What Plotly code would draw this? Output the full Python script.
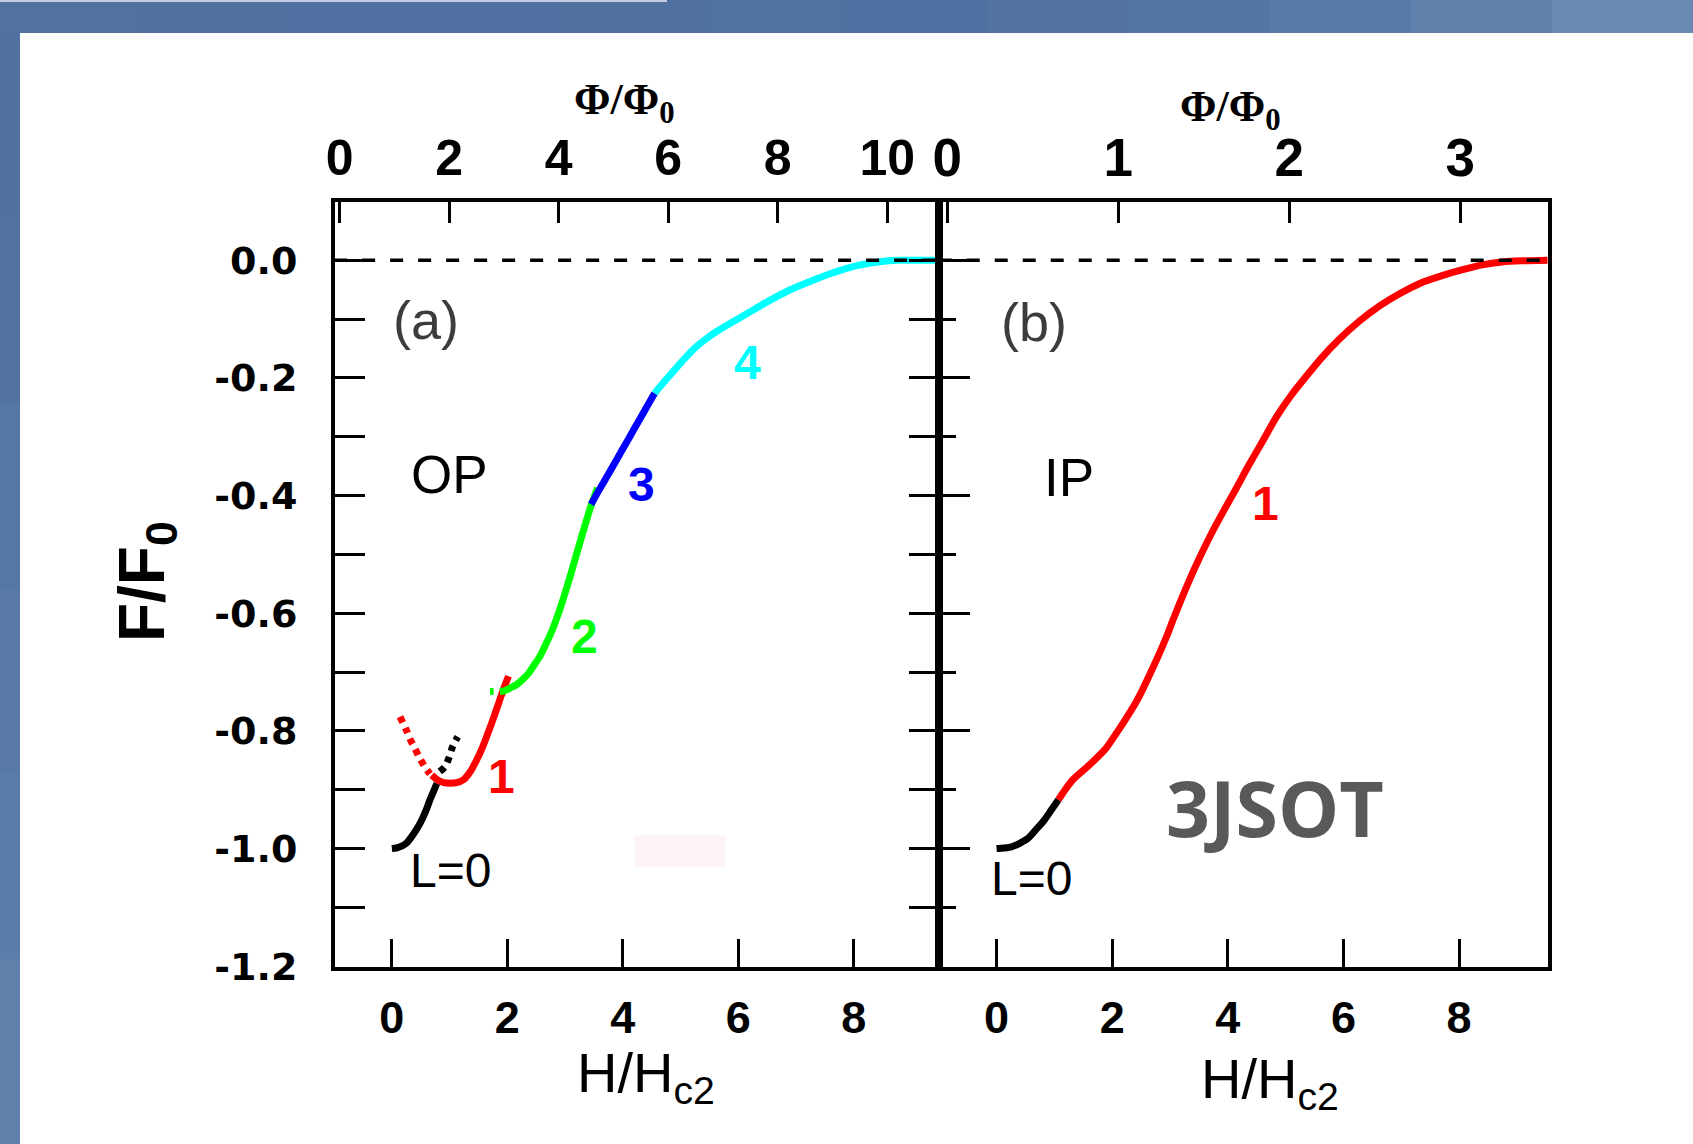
import plotly.graph_objects as go

# ---------------- data ----------------
# Panel (a) : OP
a_L0_H = [0.0, 0.08, 0.17, 0.26, 0.34, 0.43, 0.52, 0.60, 0.66, 0.72, 0.78]
a_L0_F = [-1.0, -0.999, -0.996, -0.990, -0.980, -0.967, -0.951, -0.933, -0.917, -0.903, -0.889]
a_L0dot_H = [0.83, 0.92, 0.99, 1.05, 1.14]
a_L0dot_F = [-0.869, -0.861, -0.845, -0.827, -0.810]
a_L1dot_H = [0.14, 0.24, 0.31, 0.40, 0.47, 0.57, 0.66]
a_L1dot_F = [-0.776, -0.796, -0.813, -0.830, -0.844, -0.861, -0.873]
a_L1_H = [0.69, 0.80, 0.90, 1.00, 1.12, 1.24, 1.36, 1.47, 1.56, 1.64, 1.72, 1.81, 1.88, 1.93, 1.98, 2.02]
a_L1_F = [-0.875, -0.884, -0.888, -0.889, -0.888, -0.883, -0.869, -0.849, -0.830, -0.810, -0.789,
          -0.764, -0.744, -0.730, -0.717, -0.707]
a_L2_H = [1.70, 1.76, None, 1.87, 1.94, 2.07, 2.15, 2.27, 2.36, 2.45, 2.57, 2.67, 2.78, 2.92, 3.07,
          3.17, 3.28, 3.37, 3.45, 3.56]
a_L2_F = [-0.733, -0.733, None, -0.733, -0.732, -0.726, -0.722, -0.712, -0.703, -0.690, -0.672, -0.652,
          -0.628, -0.590, -0.543, -0.509, -0.472, -0.442, -0.417, -0.387]
a_L3_H = [3.45, 3.58, 3.70, 3.84, 3.98, 4.12, 4.27, 4.41, 4.55]
a_L3_F = [-0.415, -0.392, -0.372, -0.348, -0.324, -0.300, -0.274, -0.250, -0.226]
a_L4_H = [4.55, 4.72, 4.90, 5.08, 5.26, 5.45, 5.61, 5.90, 6.18, 6.53, 6.88, 7.24, 7.59, 7.94, 8.29,
          8.60, 8.79, 9.50]
a_L4_F = [-0.226, -0.206, -0.186, -0.166, -0.148, -0.133, -0.122, -0.105, -0.089, -0.069, -0.051,
          -0.036, -0.023, -0.012, -0.005, -0.001, 0.0, 0.0]

# Panel (b) : IP
b_L0_H = [0.0, 0.13, 0.26, 0.40, 0.54, 0.68, 0.83, 0.95, 1.07]
b_L0_F = [-1.0, -0.999, -0.997, -0.991, -0.983, -0.968, -0.951, -0.934, -0.917]
b_L1_H = [1.07, 1.20, 1.32, 1.50, 1.67, 1.89, 2.10, 2.24, 2.38, 2.52, 2.66, 2.80, 2.94, 3.05, 3.16,
          3.37, 3.51, 3.72, 3.94, 4.15, 4.36, 4.60, 4.85, 5.10, 5.35, 5.63, 5.91, 6.27, 6.62, 6.97,
          7.33, 7.68, 8.03, 8.40, 8.74, 9.10, 9.55]
b_L1_F = [-0.917, -0.898, -0.883, -0.867, -0.852, -0.830, -0.800, -0.779, -0.757, -0.731, -0.702,
          -0.672, -0.640, -0.612, -0.585, -0.536, -0.506, -0.464, -0.424, -0.387, -0.349, -0.308,
          -0.265, -0.229, -0.198, -0.165, -0.136, -0.104, -0.078, -0.057, -0.039, -0.027, -0.017,
          -0.008, -0.003, -0.001, 0.0]

zero_H = [-1.0, 9.6]
zero_F = [0.0, 0.0]

# ticks
H_ticks = [0, 2, 4, 6, 8]
F_ticks = [-1.2, -1.0, -0.8, -0.6, -0.4, -0.2, 0.0]
F_ticktext = ["-1.2", "-1.0", "-0.8", "-0.6", "-0.4", "-0.2", "0.0"]
F_minor = [-1.1, -0.9, -0.7, -0.5, -0.3, -0.1]
phiA_ticks = [0, 2, 4, 6, 8, 10]
phiB_ticks = [0, 1, 2, 3]

# ---------------- layout helpers ----------------
W, Hh = 1693, 1144
def px(x): return x / W
def py(y): return 1 - y / Hh

SANS = "Liberation Sans, Arial, sans-serif"
SERIF = "Liberation Serif, Times New Roman, serif"
WIDE = "DejaVu Sans, Verdana, sans-serif"

xa_dom = [px(334.7), px(939.3)]
xb_dom = [px(939.3), px(1547.5)]
y_dom = [py(966.8), py(201.8)]
H_range_a = [-0.99, 9.48]
H_range_b = [-0.99, 9.53]
F_range = [-1.2009, 0.0993]

fig = go.Figure()

def line(xs, ys, color, ax, dash=None, width=7, spline=True):
    fig.add_trace(go.Scatter(x=xs, y=ys, mode="lines", xaxis=ax[0], yaxis=ax[1],
                             line=dict(color=color, width=width, dash=dash,
                                       shape="spline" if spline else "linear", smoothing=0.7),
                             connectgaps=False, showlegend=False, hoverinfo="skip"))

A = ("x", "y")
B = ("x2", "y2")
line(a_L1dot_H, a_L1dot_F, "#ff0000", A, dash="6px,6px", width=7)
line(a_L0dot_H, a_L0dot_F, "#000000", A, dash="6px,6px", width=7)
line(a_L0_H, a_L0_F, "#000000", A)
line(a_L1_H, a_L1_F, "#ff0000", A)
line(a_L2_H, a_L2_F, "#00ff00", A)
line(a_L3_H, a_L3_F, "#0000ff", A)
line(a_L4_H, a_L4_F, "#00ffff", A)
line(b_L0_H, b_L0_F, "#000000", B)
line(b_L1_H, b_L1_F, "#ff0000", B)
line(zero_H, zero_F, "#000000", A, dash="13px,15px", width=3.5, spline=False)
line(zero_H, zero_F, "#000000", B, dash="13px,15px", width=3.5, spline=False)
# carriers so that the top (flux) axes are drawn
fig.add_trace(go.Scatter(x=phiA_ticks[:1], y=[None], xaxis="x3", yaxis="y", mode="markers",
                         showlegend=False, hoverinfo="skip"))
fig.add_trace(go.Scatter(x=phiB_ticks[:1], y=[None], xaxis="x4", yaxis="y2", mode="markers",
                         showlegend=False, hoverinfo="skip"))

tickfont_b = dict(family=SANS, size=45, color="black", weight="bold")
common_x = dict(showgrid=False, zeroline=False, showline=True, linecolor="black", linewidth=3.5,
                ticks="inside", ticklen=28, tickwidth=3, tickcolor="black",
                tickvals=H_ticks, tickfont=tickfont_b, ticklabelstandoff=8, mirror=True)
fig.update_layout(
    width=W, height=Hh, autosize=False, margin=dict(l=0, r=0, t=0, b=0, autoexpand=False),
    paper_bgcolor="white", plot_bgcolor="white", showlegend=False,
    xaxis=dict(domain=xa_dom, range=H_range_a, anchor="y", **common_x),
    xaxis2=dict(domain=xb_dom, range=H_range_b, anchor="y2", **common_x),
    xaxis3=dict(overlaying="x", side="top", anchor="y", range=[-0.09, 10.95],
                showgrid=False, zeroline=False, showline=False,
                ticks="inside", ticklen=21, tickwidth=3, tickcolor="black",
                tickvals=phiA_ticks, ticklabelstandoff=16,
                tickfont=dict(family=SANS, size=50, color="black", weight="bold")),
    xaxis4=dict(overlaying="x2", side="top", anchor="y2", range=[-0.047, 3.51],
                showgrid=False, zeroline=False, showline=False,
                ticks="inside", ticklen=21, tickwidth=3, tickcolor="black",
                tickvals=phiB_ticks, ticklabelstandoff=14,
                tickfont=dict(family=SANS, size=53, color="black", weight="bold")),
    yaxis=dict(domain=y_dom, range=F_range, anchor="x", showgrid=False, zeroline=False,
               showline=True, linecolor="black", linewidth=3.5, mirror="allticks",
               ticks="inside", ticklen=31, tickwidth=3, tickcolor="black",
               tickvals=F_ticks, ticktext=F_ticktext, ticklabelstandoff=26,
               tickfont=dict(family=WIDE, size=38, color="black", weight="bold"),
               minor=dict(tickvals=F_minor, ticklen=17, tickwidth=3, tickcolor="black", ticks="inside")),
    yaxis2=dict(domain=y_dom, range=F_range, anchor="x2", showgrid=False, zeroline=False,
                showline=True, linecolor="black", linewidth=3.5, mirror=True,
                ticks="inside", ticklen=31, tickwidth=3, tickcolor="black",
                tickvals=F_ticks, showticklabels=False,
                minor=dict(tickvals=F_minor, ticklen=17, tickwidth=3, tickcolor="black", ticks="inside")),
)

# ---------------- annotations ----------------
def ann_data(text, x, y, ax, size, color="black", family=SANS, weight="normal"):
    fig.add_annotation(text=text, x=x, y=y, xref=ax[0], yref=ax[1], showarrow=False,
                       xanchor="center", yanchor="middle",
                       font=dict(family=family, size=size, color=color, weight=weight))

def ann_px(text, x, y, size, color="black", family=SANS, weight="normal", angle=0):
    fig.add_annotation(text=text, x=px(x), y=py(y), xref="paper", yref="paper", showarrow=False,
                       xanchor="center", yanchor="middle", textangle=angle,
                       font=dict(family=family, size=size, color=color, weight=weight))

ann_data("(a)", 0.59, -0.102, A, 54, color="#3c3c3c")
ann_data("(b)", 0.65, -0.105, B, 54, color="#3c3c3c")
ann_data("OP", 0.99, -0.365, A, 53)
ann_data("IP", 1.25, -0.370, B, 53)
ann_data("4", 6.15, -0.173, A, 48, color="#00ffff", weight="bold")
ann_data("3", 4.33, -0.382, A, 48, color="#0000ff", weight="bold")
ann_data("2", 3.33, -0.640, A, 48, color="#00ff00", weight="bold")
ann_data("1", 1.90, -0.878, A, 48, color="#ff0000", weight="bold")
ann_data("1", 4.65, -0.413, B, 48, color="#ff0000", weight="bold")
ann_data("L=0", 1.02, -1.038, A, 48)
ann_data("L=0", 0.60, -1.050, B, 48)
ann_data("3JSOT", 4.82, -0.930, B, 77, color="#595959", family="Open Sans, Noto Sans, sans-serif",
         weight="bold")

ann_px("Φ/Φ<sub>0</sub>", 624, 102, 44, family=SERIF, weight="bold")
ann_px("Φ/Φ<sub>0</sub>", 1230, 109, 44, family=SERIF, weight="bold")
ann_px("H/H<sub>c2</sub>", 646, 1076, 56)
ann_px("H/H<sub>c2</sub>", 1270, 1082, 56)
ann_px("F/F<sub>0</sub>", 146, 582, 64, weight="bold", angle=-90)

# ---------------- decoration (slide background) ----------------
shapes = []
top_cols = ["#51719f", "#50719f", "#4f70a0", "#4f70a0", "#5071a0", "#5072a1", "#4f71a1", "#5273a2",
            "#5476a4", "#587aa7", "#5e80ab", "#6789b2"]
n = len(top_cols)
for i, c in enumerate(top_cols):
    shapes.append(dict(type="rect", xref="paper", yref="paper", x0=i / n, x1=(i + 1) / n + 0.002,
                       y0=py(33), y1=1, fillcolor=c, line=dict(width=0), layer="above"))
shapes.append(dict(type="rect", xref="paper", yref="paper", x0=0, x1=px(667), y0=py(2), y1=1,
                   fillcolor="#c3cfe0", line=dict(width=0), layer="above"))
left_cols = ["#5071a0", "#5273a2", "#5577a5", "#5879a7", "#5b7da9", "#5e80ab"]
m = len(left_cols)
for i, c in enumerate(left_cols):
    shapes.append(dict(type="rect", xref="paper", yref="paper", x0=0, x1=px(20),
                       y0=py(33) * (1 - (i + 1) / m) - 0.002, y1=py(33) * (1 - i / m),
                       fillcolor=c, line=dict(width=0), layer="above"))
shapes.append(dict(type="rect", xref="paper", yref="paper", x0=px(634), x1=px(726), y0=py(867),
                   y1=py(835), fillcolor="#fdf5f5", line=dict(width=0), layer="below"))
fig.update_layout(shapes=shapes)

fig.write_html("out.html", config={"responsive": False})
